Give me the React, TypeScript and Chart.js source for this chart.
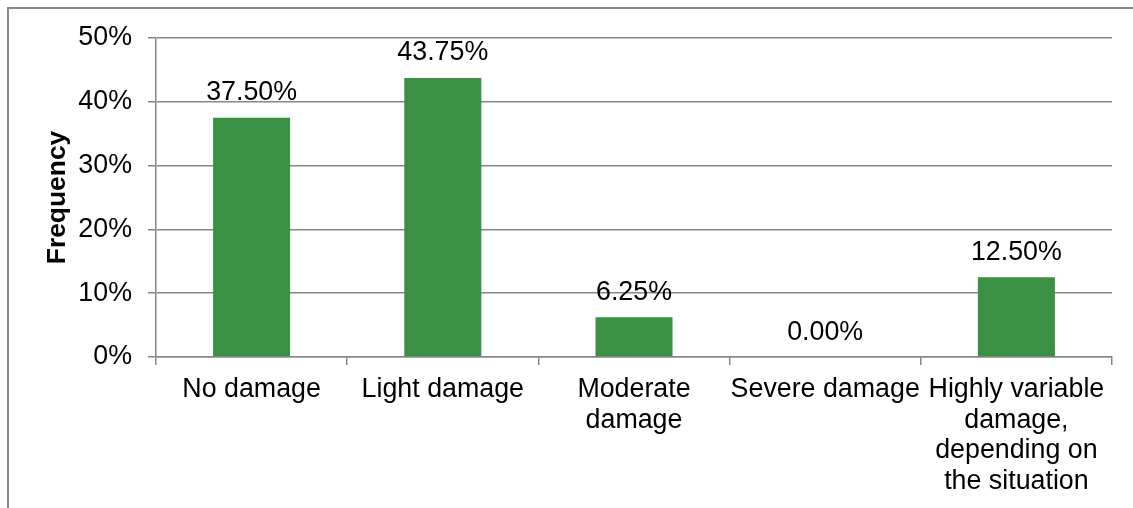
import React, { useEffect, useRef } from "react";
import { Chart, registerables } from "chart.js";

Chart.register(...registerables);

const categories: (string | string[])[] = [
  "No damage",
  "Light damage",
  ["Moderate", "damage"],
  "Severe damage",
  ["Highly variable", "damage,", "depending on", "the situation"],
];
const frequency: number[] = [37.5, 43.75, 6.25, 0.0, 12.5];
const yTicks: number[] = [0, 10, 20, 30, 40, 50];
const yTitle = "Frequency";

const FONT = '"Liberation Sans", Arial, sans-serif';
const FS = 26.8;
const GRID = "#878787";
const BAR = "#3a9143";

const framePlugin = {
  id: "frame",
  beforeDraw(chart: any) {
    const ctx = chart.ctx;
    ctx.save();
    ctx.fillStyle = "#ffffff";
    ctx.fillRect(0, 0, chart.width, chart.height);
    ctx.strokeStyle = GRID;
    ctx.lineWidth = 2;
    ctx.beginPath();
    ctx.moveTo(8, chart.height);
    ctx.lineTo(8, 8);
    ctx.lineTo(chart.width, 8);
    ctx.stroke();
    ctx.restore();
  },
};

const labelPlugin = {
  id: "barLabels",
  afterDatasetsDraw(chart: any) {
    const ctx = chart.ctx;
    const meta = chart.getDatasetMeta(0);
    const data = chart.data.datasets[0].data as number[];
    ctx.save();
    ctx.font = `${FS}px ${FONT}`;
    ctx.fillStyle = "#000000";
    ctx.textAlign = "center";
    ctx.textBaseline = "alphabetic";
    meta.data.forEach((bar: any, i: number) => {
      ctx.fillText(data[i].toFixed(2) + "%", bar.x, bar.y - 17.5);
    });
    ctx.restore();
  },
};

export default function App() {
  const ref = useRef<HTMLCanvasElement>(null);
  useEffect(() => {
    if (!ref.current) return;
    const chart = new Chart(ref.current, {
      type: "bar",
      data: {
        labels: categories,
        datasets: [
          {
            data: frequency,
            backgroundColor: BAR,
            borderWidth: 0,
            barPercentage: 0.403,
            categoryPercentage: 1,
          },
        ],
      },
      options: {
        responsive: false,
        animation: false,
        devicePixelRatio: 1,
        layout: { padding: { top: 38, right: 21, left: 0, bottom: 0 } },
        plugins: {
          legend: { display: false },
          tooltip: { enabled: false },
        },
        scales: {
          x: {
            grid: {
              drawOnChartArea: false,
              drawTicks: true,
              tickLength: 8,
              color: GRID,
              lineWidth: 1.5,
            },
            border: { color: GRID, width: 1.5 },
            ticks: {
              color: "#000000",
              font: { family: FONT, size: FS, lineHeight: 1.15 },
              padding: 9,
              maxRotation: 0,
              minRotation: 0,
              autoSkip: false,
            },
            afterFit(scale: any) {
              scale.height = 151;
            },
          },
          y: {
            min: 0,
            max: 50,
            afterBuildTicks(scale: any) {
              scale.ticks = yTicks.map((v) => ({ value: v }));
            },
            grid: {
              color: GRID,
              lineWidth: 1.5,
              tickLength: 8,
              drawTicks: true,
            },
            border: { color: GRID, width: 1.5 },
            ticks: {
              color: "#000000",
              font: { family: FONT, size: FS },
              padding: 16,
              callback: (v: any) => `${v}%`,
            },
            title: {
              display: true,
              text: yTitle,
              color: "#000000",
              font: { family: FONT, size: 26.4, weight: "bold", lineHeight: 1.2 },
              padding: { top: 42, bottom: 0 },
            },
            afterFit(scale: any) {
              scale.width = 156;
            },
          },
        },
      },
      plugins: [framePlugin, labelPlugin],
    });
    return () => chart.destroy();
  }, []);
  return (
    <div style={{ position: "absolute", left: 0, top: 0, width: 1133, height: 508 }}>
      <canvas ref={ref} width={1133} height={508} />
    </div>
  );
}
